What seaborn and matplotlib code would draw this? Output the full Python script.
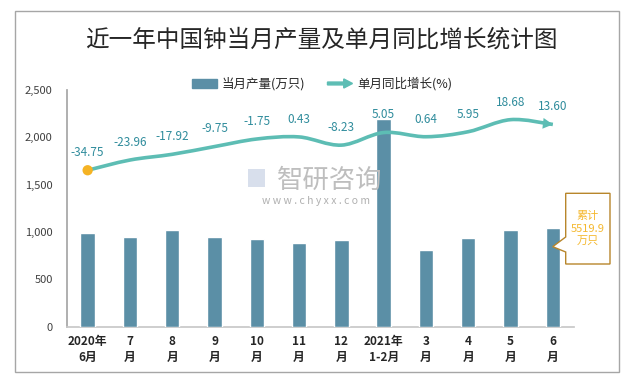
import numpy as np
import pandas as pd
import seaborn as sns
import matplotlib
matplotlib.use("Agg")
import matplotlib.pyplot as plt
import matplotlib.patches as mpatches
from matplotlib.path import Path
from matplotlib.legend_handler import HandlerPatch

# ---------------- data ----------------
categories = ["2020年\n6月", "7\n月", "8\n月", "9\n月", "10\n月", "11\n月", "12\n月",
              "2021年\n1-2月", "3\n月", "4\n月", "5\n月", "6\n月"]
production = [989, 950, 1024, 950, 929, 887, 918, 2197, 812, 940, 1024, 1045]   # 万只
growth = [-34.75, -23.96, -17.92, -9.75, -1.75, 0.43, -8.23, 5.05, 0.64, 5.95, 18.68, 13.60]  # %
growth_labels = ["-34.75", "-23.96", "-17.92", "-9.75", "-1.75", "0.43", "-8.23",
                 "5.05", "0.64", "5.95", "18.68", "13.60"]
yticks = [0, 500, 1000, 1500, 2000, 2500]
ytick_labels = ["0", "500", "1,000", "1,500", "2,000", "2,500"]
title = "近一年中国钟当月产量及单月同比增长统计图"
bar_name = "当月产量(万只)"
line_name = "单月同比增长(%)"
callout = "累计\n5519.9\n万只"

BAR_C = "#5B8FA6"
LINE_C = "#5DBDB4"
LABEL_C = "#2F8C9C"
DOT_C = "#F5B324"

sns.set_theme(style="white")
plt.rcParams["font.family"] = ["Noto Sans CJK SC", "DejaVu Sans"]

W, H = 630, 377
fig = plt.figure(figsize=(W / 100, H / 100), dpi=100)
fig.patch.set_facecolor("white")

def fx(px):
    return px / W

def fy(py):
    return (H - py) / H

ax = fig.add_axes([fx(66.5), fy(326.7), fx(574) - fx(66.5), fy(90) - fy(326.7)])
ax.set_facecolor("none")

df = pd.DataFrame({"cat": categories, "prod": production})
sns.barplot(data=df, x="cat", y="prod", order=categories, color=BAR_C,
            width=0.34, saturation=1, ax=ax, zorder=3)
ax.set_xlim(-0.5, len(categories) - 0.5)
ax.set_ylim(0, 2500)
ax.set_xlabel("")
ax.set_ylabel("")
ax.set_yticks(yticks)
ax.set_yticklabels(ytick_labels)
ax.tick_params(axis="y", length=0, pad=10, labelsize=8, labelcolor="#404040")
ax.set_xticks(range(len(categories)))
ax.set_xticklabels(categories, fontweight="bold", fontsize=8.5, color="#262626",
                   linespacing=1.3)
ax.tick_params(axis="x", which="major", length=0, pad=6)
ax.set_xticks(np.arange(-0.5, len(categories), 1.0), minor=True)
ax.tick_params(axis="x", which="minor", length=5, width=1, color="#C8C8C8", direction="out")
for s in ["top", "right"]:
    ax.spines[s].set_visible(False)
ax.spines["left"].set_color("#A6A6A6")
ax.spines["bottom"].set_color("#C8C8C8")

# secondary (hidden) axis for growth
ax2 = ax.twinx()
ax2.set_ylim(-200, 50)
ax2.set_xlim(-0.5, len(categories) - 0.5)
ax2.axis("off")

# smooth (Catmull-Rom / Excel-like) curve through the data points
xs = np.arange(len(growth), dtype=float)
ys = np.array(growth, dtype=float)
P = np.column_stack([xs, ys])
verts = [P[0]]
codes = [Path.MOVETO]
n = len(P)
for i in range(n - 1):
    p0 = P[i - 1] if i > 0 else P[i]
    p1 = P[i]
    p2 = P[i + 1]
    p3 = P[i + 2] if i + 2 < n else P[i + 1]
    c1 = p1 + (p2 - p0) / 6.0
    c2 = p2 - (p3 - p1) / 6.0
    verts += [c1, c2, p2]
    codes += [Path.CURVE4] * 3
last_c2 = verts[-2]
path = Path(verts, codes)
ax2.add_patch(mpatches.PathPatch(path, fill=False, ec=LINE_C, lw=2.6,
                                 capstyle="butt", zorder=5))
ax2.annotate("", xy=tuple(P[-1]), xytext=tuple(last_c2),
             arrowprops=dict(arrowstyle="-|>,head_length=0.55,head_width=0.3",
                             mutation_scale=13, color=LINE_C, lw=0,
                             shrinkA=0, shrinkB=0), zorder=6)
sns.scatterplot(x=[xs[0]], y=[ys[0]], s=55, color=DOT_C, edgecolor="none",
                ax=ax2, zorder=7, legend=False)
ax2.set_ylim(-200, 50)
ax2.set_xlim(-0.5, len(categories) - 0.5)

for xi, yi, lab in zip(xs, ys, growth_labels):
    ax2.annotate(lab, xy=(xi, yi), xytext=(0, 8), textcoords="offset points",
                 ha="center", va="bottom", fontsize=8.5, color=LABEL_C, zorder=8)

# title
fig.text(fx(321), fy(40), title, ha="center", va="center", fontsize=17,
         fontweight="medium", color="#262626")

# legend
def make_arrow(legend, orig_handle, xdescent, ydescent, width, height, fontsize):
    return mpatches.FancyArrow(0, 0.5 * height - ydescent, width, 0,
                               length_includes_head=True, width=0.3 * height,
                               head_width=0.95 * height, head_length=0.35 * width)

bar_handle = mpatches.Patch(color=BAR_C, label=bar_name)
arrow_handle = mpatches.FancyArrow(0, 0, 1, 0, color=LINE_C, label=line_name)
fig.legend(handles=[bar_handle, arrow_handle], labels=[bar_name, line_name],
           loc="center", bbox_to_anchor=(fx(322), fy(84)), ncol=2, frameon=False,
           fontsize=9, handlelength=2.0, handleheight=0.8, handletextpad=0.35,
           columnspacing=1.8, labelcolor="#262626",
           handler_map={mpatches.FancyArrow: HandlerPatch(patch_func=make_arrow)})

# watermark
fig.text(fx(330), fy(180), "智研咨询", ha="center", va="center", fontsize=19,
         color="#BEBEBE", zorder=0)
fig.text(fx(316), fy(201), "w w w . c h y x x . c o m", ha="center", va="center",
         fontsize=7.5, color="#B0B0B0", zorder=0)
fig.patches.append(mpatches.Rectangle((fx(248), fy(187)), fx(17), fy(169) - fy(187),
                                      transform=fig.transFigure, fc="#D8DFEC",
                                      ec="none", zorder=0))

# callout box
box = [(565.7, 193.3), (610, 193.3), (610, 264), (565.7, 264), (565.7, 252),
       (552.7, 246.7), (565.7, 237)]
fig.patches.append(mpatches.Polygon([(fx(a), fy(b)) for a, b in box], closed=True,
                                    transform=fig.transFigure, fc="white",
                                    ec="#B8862B", lw=1, zorder=10))
fig.text(fx(588), fy(229), callout, ha="center", va="center", fontsize=8,
         color="#F5B82E", linespacing=1.35, zorder=11)

# outer border
fig.patches.append(mpatches.Rectangle((fx(14.7), fy(372)), fx(619) - fx(14.7),
                                      fy(11.4) - fy(372), transform=fig.transFigure,
                                      fill=False, ec="#A6A6A6", lw=1, zorder=12))

fig.savefig("out.png", dpi=100)
